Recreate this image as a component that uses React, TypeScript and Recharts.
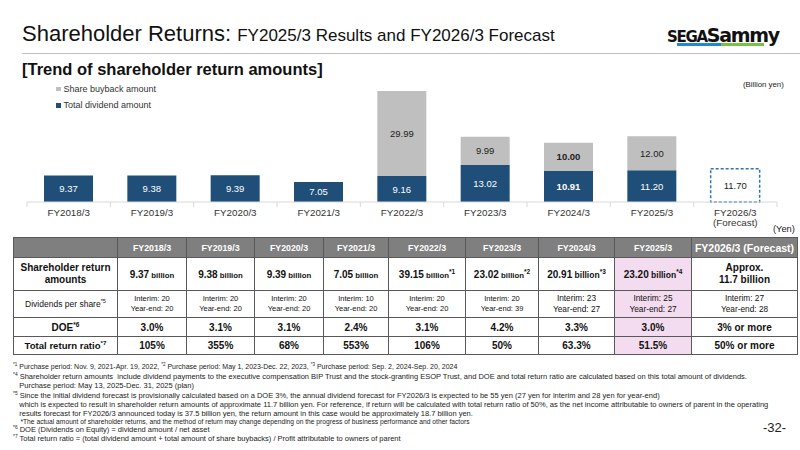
import React from 'react';
import { BarChart, Bar, XAxis, YAxis, Legend, LabelList } from 'recharts';

const categories = ['FY2018/3', 'FY2019/3', 'FY2020/3', 'FY2021/3', 'FY2022/3', 'FY2023/3', 'FY2024/3', 'FY2025/3', 'FY2026/3'];
const categorySubLabels = ['', '', '', '', '', '', '', '', '(Forecast)'];
const dividendAmounts = [9.37, 9.38, 9.39, 7.05, 9.16, 13.02, 10.91, 11.2, null];
const buybackAmounts = [null, null, null, null, 29.99, 9.99, 10.0, 12.0, null];
const forecastAmounts = [null, null, null, null, null, null, null, null, 11.7];
const boldLabelCategories = ['FY2024/3'];

const tableYears = ['FY2018/3', 'FY2019/3', 'FY2020/3', 'FY2021/3', 'FY2022/3', 'FY2023/3', 'FY2024/3', 'FY2025/3', 'FY2026/3 (Forecast)'];
const returnAmounts = ['9.37', '9.38', '9.39', '7.05', '39.15', '23.02', '20.91', '23.20'];
const returnNotes = ['', '', '', '', '*1', '*2', '*3', '*4'];
const interimDividends = [20, 20, 20, 10, 20, 20, 23, 25, 27];
const yearEndDividends = [20, 20, 20, 20, 20, 39, 27, 27, 28];
const doeValues = ['3.0%', '3.1%', '3.1%', '2.4%', '3.1%', '4.2%', '3.3%', '3.0%', '3% or more'];
const totalReturnRatios = ['105%', '355%', '68%', '553%', '106%', '50%', '63.3%', '51.5%', '50% or more'];

const chartData = categories.map((c, i) => ({
  category: c,
  dividend: dividendAmounts[i],
  buyback: buybackAmounts[i],
  forecast: forecastAmounts[i],
}));

const FONT = '"Liberation Sans", Arial, sans-serif';
const BLUE = '#1F4E79';
const GRAY = '#BFBFBF';
const PINK = '#F3DCEF';
const HEADER = '#7F7F7F';
const BORDER = '#595959';

const CHART_W = 800;
const M_LEFT = 27;
const M_RIGHT = 23;
const halfBand = (CHART_W - M_LEFT - M_RIGHT) / categories.length / 2;

const AxisTick = (props: any) => {
  const { x, y, payload, index } = props;
  const axisY = y - 8;
  const sub = categorySubLabels[index];
  return (
    <g>
      <line x1={x - halfBand} x2={x - halfBand} y1={axisY} y2={axisY + 5} stroke="#D9D9D9" />
      {index === categories.length - 1 && (
        <line x1={x + halfBand} x2={x + halfBand} y1={axisY} y2={axisY + 5} stroke="#D9D9D9" />
      )}
      <text x={x} y={axisY + 13.5} textAnchor="middle" fontSize={9.8} fill="#333" fontFamily={FONT}>
        {payload.value}
      </text>
      {sub && (
        <text x={x} y={axisY + 24} textAnchor="middle" fontSize={9.8} fill="#333" fontFamily={FONT}>
          {sub}
        </text>
      )}
    </g>
  );
};

// label value carries "<value>|<category>" so the label knows its category
const labelAccessor = (key: string) => (d: any) =>
  d[key] === null || d[key] === undefined ? null : `${Number(d[key]).toFixed(2)}|${d.category}`;

const makeLabel = (color: string) => (props: any) => {
  const { x, y, width, height, value } = props;
  if (value === null || value === undefined || value === '') return null;
  const [txt, cat] = String(value).split('|');
  const bold = boldLabelCategories.includes(cat);
  return (
    <text
      x={x + width / 2}
      y={y + height / 2 + 3.5}
      textAnchor="middle"
      fontSize={9.5}
      fontWeight={bold ? 700 : 400}
      fill={color}
      fontFamily={FONT}
    >
      {txt}
    </text>
  );
};

const legendOrder = ['Share buyback amount', 'Total dividend amount'];

const LegendContent = (props: any) => {
  const items = (props.payload || [])
    .filter((p: any) => legendOrder.includes(p.value))
    .slice()
    .sort((a: any, b: any) => legendOrder.indexOf(a.value) - legendOrder.indexOf(b.value));
  return (
    <div style={{ fontFamily: FONT, fontSize: 9, color: '#333' }}>
      {items.map((p: any) => (
        <div key={p.value} style={{ height: 16.3, display: 'flex', alignItems: 'center' }}>
          <span style={{ display: 'inline-block', width: 4.5, height: 4.5, background: p.color, marginRight: 3 }} />
          {p.value}
        </div>
      ))}
    </div>
  );
};

const sup = (t: string) => (
  <span style={{ fontSize: '0.65em', verticalAlign: 'super', lineHeight: 0 }}>{t}</span>
);

const cell: React.CSSProperties = {
  border: `1px solid ${BORDER}`,
  textAlign: 'center',
  verticalAlign: 'middle',
  padding: 0,
  color: '#111',
};

const footLine = (top: number, content: React.ReactNode, size = 7.5) => (
  <div style={{ position: 'absolute', left: 13, top, fontSize: size, lineHeight: '10px', color: '#222', whiteSpace: 'nowrap' }}>
    {content}
  </div>
);

export default function App() {
  const colWidths = [104, 69, 68, 69, 65, 77, 73, 76, 77, 106];
  const last = tableYears.length - 1;
  return (
    <div style={{ position: 'absolute', left: 0, top: 0, width: 800, height: 450, background: '#fff', overflow: 'hidden', fontFamily: FONT }}>
      {/* Title */}
      <div style={{ position: 'absolute', left: 22, top: 21, whiteSpace: 'nowrap', color: '#111' }}>
        <span style={{ fontSize: 22 }}>Shareholder Returns: </span>
        <span style={{ fontSize: 17 }}>FY2025/3 Results and FY2026/3 Forecast</span>
      </div>
      <div style={{ position: 'absolute', left: 22, top: 53, width: 778, height: 1, background: '#BFBFBF' }} />
      {/* Logo */}
      <div style={{ position: 'absolute', left: 667, top: 26, width: 112, height: 22 }}>
        <div style={{ position: 'absolute', left: 0, top: 0, fontFamily: '"DejaVu Sans", sans-serif', fontWeight: 900, letterSpacing: -1.3, color: '#111', whiteSpace: 'nowrap', lineHeight: '18px' }}>
          <span style={{ fontSize: 15 }}>SEGA</span>
          <span style={{ fontSize: 19 }}>Sammy</span>
        </div>
        <div style={{ position: 'absolute', left: 10, top: 17, width: 44, height: 2.5, background: '#1E88D2' }} />
        <div style={{ position: 'absolute', left: 54, top: 17, width: 43, height: 2.5, background: '#7CC242' }} />
      </div>
      {/* Subtitle */}
      <div style={{ position: 'absolute', left: 22, top: 60, fontSize: 16.5, fontWeight: 700, color: '#111', whiteSpace: 'nowrap' }}>
        [Trend of shareholder return amounts]
      </div>
      <div style={{ position: 'absolute', left: 743, top: 80, fontSize: 7.8, color: '#222' }}>(Billion yen)</div>

      {/* Chart */}
      <div style={{ position: 'absolute', left: 0, top: 70 }}>
        <BarChart width={CHART_W} height={170} data={chartData} margin={{ top: 10, right: M_RIGHT, left: M_LEFT, bottom: 0 }}>
          <XAxis dataKey="category" axisLine={{ stroke: '#D9D9D9' }} tickLine={false} height={38} interval={0} tick={<AxisTick />} />
          <YAxis hide domain={[0, 43]} />
          <Legend
            layout="vertical"
            align="center"
            verticalAlign="middle"
            content={<LegendContent />}
            wrapperStyle={{ position: 'absolute', left: 56, top: 11, width: 'auto' }}
          />
          <Bar dataKey="dividend" name="Total dividend amount" stackId="a" fill={BLUE} barSize={49} isAnimationActive={false}>
            <LabelList dataKey={labelAccessor('dividend')} content={makeLabel('#FFFFFF')} />
          </Bar>
          <Bar dataKey="buyback" name="Share buyback amount" stackId="a" fill={GRAY} barSize={49} isAnimationActive={false}>
            <LabelList dataKey={labelAccessor('buyback')} content={makeLabel('#222')} />
          </Bar>
          <Bar
            dataKey="forecast"
            name="Forecast"
            legendType="none"
            stackId="a"
            fill="#FFFFFF"
            stroke="#2E75B6"
            strokeWidth={1.5}
            strokeDasharray="3 2"
            barSize={49}
            isAnimationActive={false}
          >
            <LabelList dataKey={labelAccessor('forecast')} content={makeLabel('#222')} />
          </Bar>
        </BarChart>
      </div>

      <div style={{ position: 'absolute', left: 773, top: 224, fontSize: 9.3, color: '#222' }}>(Yen)</div>

      {/* Table */}
      <table style={{ position: 'absolute', left: 13, top: 237, width: 784, borderCollapse: 'collapse', tableLayout: 'fixed', fontFamily: FONT, border: `1.5px solid #404040` }}>
        <colgroup>
          {colWidths.map((w, i) => (
            <col key={i} style={{ width: w }} />
          ))}
        </colgroup>
        <tbody>
          <tr style={{ height: 20 }}>
            <td style={{ ...cell, background: HEADER }} />
            {tableYears.map((y, i) => (
              <td key={y} style={{ ...cell, background: HEADER, color: '#fff', fontWeight: 700, fontSize: i === last ? 10.5 : 8.8 }}>
                {y}
              </td>
            ))}
          </tr>
          <tr style={{ height: 33 }}>
            <td style={{ ...cell, fontWeight: 700, fontSize: 10, lineHeight: '12px' }}>
              Shareholder return
              <br />
              amounts
            </td>
            {returnAmounts.map((v, i) => (
              <td key={i} style={{ ...cell, fontWeight: 700, fontSize: 10, background: i === 7 ? PINK : '#fff' }}>
                {v}
                <span style={{ fontSize: i >= 6 ? 8.5 : 7.8 }}> billion</span>
                {returnNotes[i] && sup(returnNotes[i])}
              </td>
            ))}
            <td style={{ ...cell, fontWeight: 700, fontSize: 10, lineHeight: '12px' }}>
              Approx.
              <br />
              11.7 billion
            </td>
          </tr>
          <tr style={{ height: 27 }}>
            <td style={{ ...cell, fontSize: 8.5 }}>
              Dividends per share{sup('*5')}
            </td>
            {interimDividends.map((v, i) => (
              <td key={i} style={{ ...cell, fontSize: i >= 6 ? 8.3 : 7.5, lineHeight: i >= 6 ? '11px' : '10px', background: i === 7 ? PINK : '#fff' }}>
                Interim: {v}
                <br />
                Year-end: {yearEndDividends[i]}
              </td>
            ))}
          </tr>
          <tr style={{ height: 19 }}>
            <td style={{ ...cell, fontWeight: 700, fontSize: 10 }}>DOE{sup('*6')}</td>
            {doeValues.map((v, i) => (
              <td key={i} style={{ ...cell, fontWeight: 700, fontSize: 10, background: i === 7 ? PINK : '#fff' }}>
                {v}
              </td>
            ))}
          </tr>
          <tr style={{ height: 18 }}>
            <td style={{ ...cell, fontWeight: 700, fontSize: 9.6 }}>Total return ratio{sup('*7')}</td>
            {totalReturnRatios.map((v, i) => (
              <td key={i} style={{ ...cell, fontWeight: 700, fontSize: 10, background: i === 7 ? PINK : '#fff' }}>
                {v}
              </td>
            ))}
          </tr>
        </tbody>
      </table>

      {/* Footnotes */}
      {footLine(362, <>{sup('*1')} Purchase period: Nov. 9, 2021-Apr. 19, 2022, {sup('*2')} Purchase period: May 1, 2023-Dec. 22, 2023, {sup('*3')} Purchase period: Sep. 2, 2024-Sep. 20, 2024</>, 7.0)}
      {footLine(372, <>{sup('*4')} Shareholder return amounts&nbsp; include dividend payments to the executive compensation BIP Trust and the stock-granting ESOP Trust, and DOE and total return ratio are calculated based on this total amount of dividends.</>)}
      {footLine(381, <>&nbsp;&nbsp;&nbsp;Purchase period: May 13, 2025-Dec. 31, 2025 (plan)</>)}
      {footLine(391, <>{sup('*5')} Since the initial dividend forecast is provisionally calculated based on a DOE 3%, the annual dividend forecast for FY2026/3 is expected to be 55 yen (27 yen for interim and 28 yen for year-end)</>)}
      {footLine(400, <>&nbsp;&nbsp;&nbsp;which is expected to result in shareholder return amounts of approximate 11.7 billion yen. For reference, if return will be calculated with total return ratio of 50%, as the net income attributable to owners of parent in the operating</>)}
      {footLine(409, <>&nbsp;&nbsp;&nbsp;results forecast for FY2026/3 announced today is 37.5 billion yen, the return amount in this case would be approximately 18.7 billion yen.</>)}
      {footLine(417, <>&nbsp;&nbsp;&nbsp;&nbsp;*The actual amount of shareholder returns, and the method of return may change depending on the progress of business performance and other factors</>, 6.7)}
      {footLine(425, <>{sup('*6')} DOE (Dividends on Equity) = dividend amount / net asset</>)}
      {footLine(434, <>{sup('*7')} Total return ratio = (total dividend amount + total amount of share buybacks) / Profit attributable to owners of parent</>)}

      <div style={{ position: 'absolute', left: 763, top: 420, fontSize: 13, color: '#222' }}>-32-</div>
    </div>
  );
}
